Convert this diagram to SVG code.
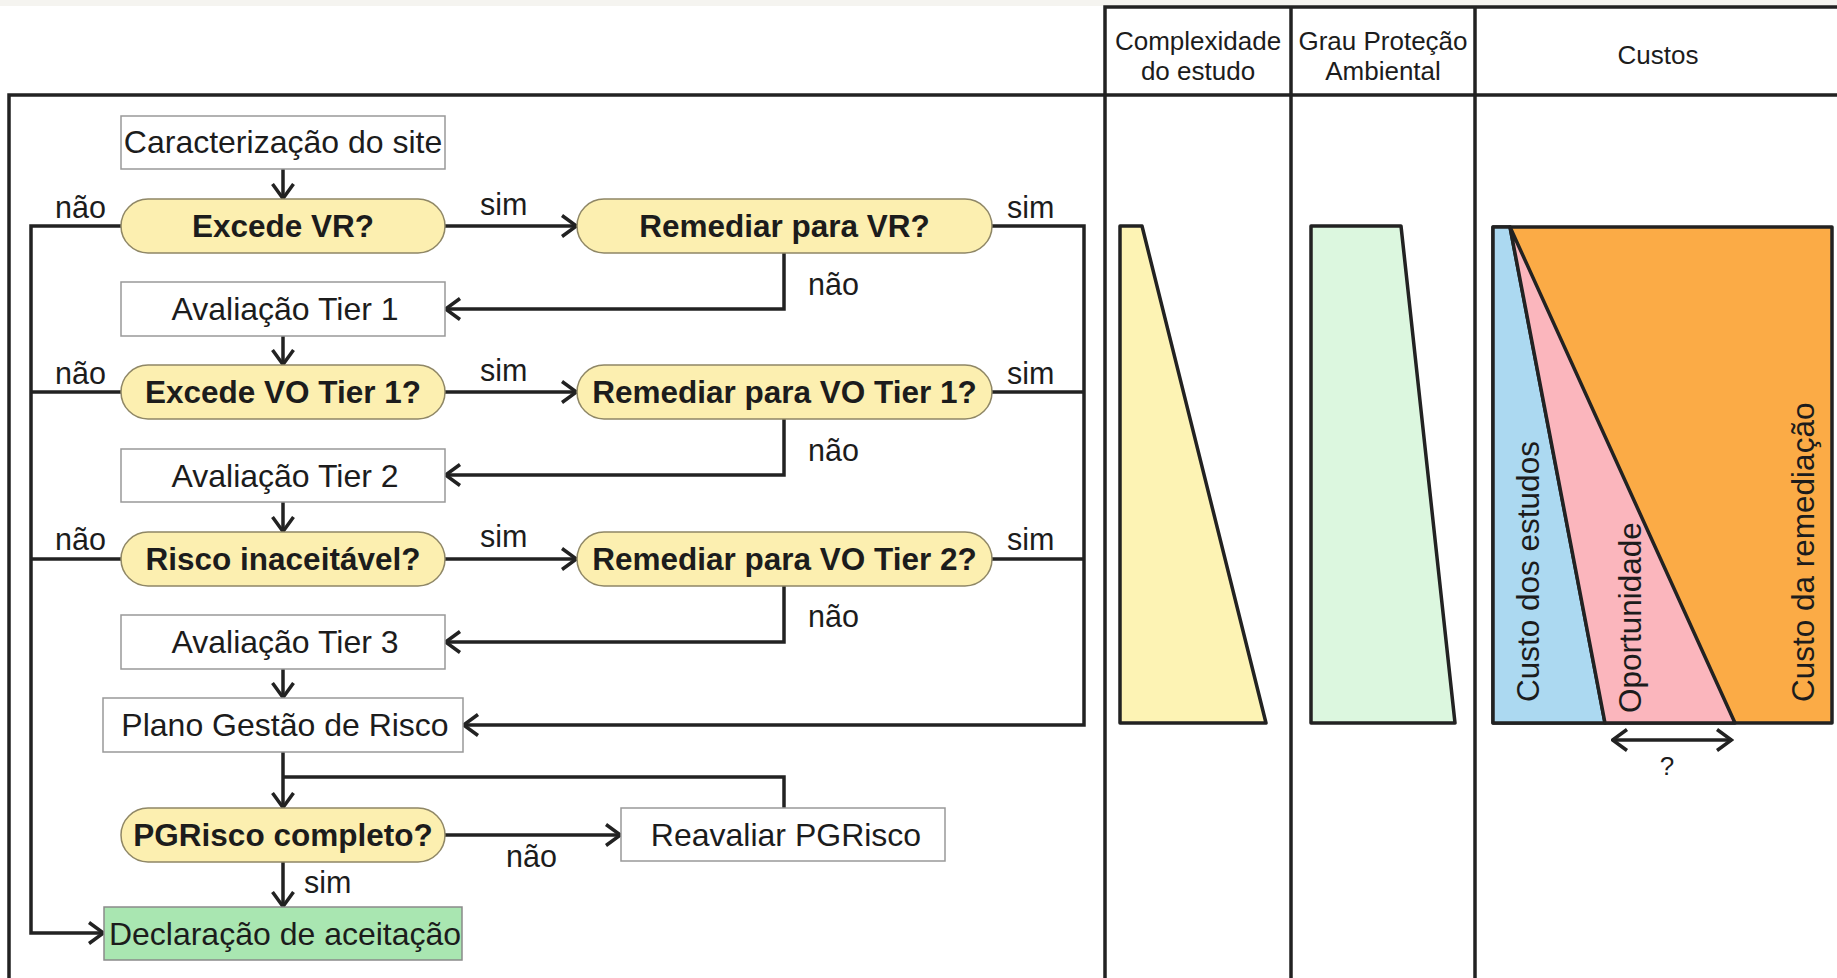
<svg xmlns="http://www.w3.org/2000/svg" width="1837" height="978" viewBox="0 0 1837 978">
<style>
  .frame{stroke:#222;stroke-width:3.5;fill:none}
  .box{fill:#fff;stroke:#999;stroke-width:1.5}
  .pill{fill:#fcefb0;stroke:#8f8766;stroke-width:1.5}
  .ok{fill:#a9e6b1;stroke:#8a8a8a;stroke-width:1.5}
  .t{font-family:"Liberation Sans",Arial,sans-serif;font-size:32px;fill:#1c1c1c;text-anchor:middle}
  .b{font-weight:bold;font-size:31.5px}
  .lbl{font-family:"Liberation Sans",Arial,sans-serif;font-size:30.5px;fill:#1c1c1c}
  .hd{font-family:"Liberation Sans",Arial,sans-serif;font-size:26px;fill:#1c1c1c;text-anchor:middle}
  .rot{font-family:"Liberation Sans",Arial,sans-serif;font-size:31.5px;fill:#1c1c1c}
  .c{stroke:#222;stroke-width:3.5;fill:none}
  .ca{stroke:#222;stroke-width:3.5;fill:none;marker-end:url(#ah)}
  .shape{stroke:#222;stroke-width:3.5;stroke-linejoin:round}
</style>
<defs>
  <marker id="ah" viewBox="0 0 18 24" refX="16.5" refY="12" markerWidth="18" markerHeight="24" markerUnits="userSpaceOnUse" orient="auto">
    <path d="M1.5,1.5 L16,12 L1.5,22.5" fill="none" stroke="#222" stroke-width="3.5" stroke-linejoin="miter"/>
  </marker>
  <marker id="ahs" viewBox="0 0 18 24" refX="1.5" refY="12" markerWidth="18" markerHeight="24" markerUnits="userSpaceOnUse" orient="auto">
    <path d="M16.5,1.5 L2,12 L16.5,22.5" fill="none" stroke="#222" stroke-width="3.5"/>
  </marker>
</defs>
<rect x="0" y="0" width="1837" height="978" fill="#ffffff"/>
<rect x="0" y="0" width="1837" height="6" fill="#f5f4f0"/>

<g id="frame">
  <path class="frame" d="M9,978 V95 H1837"/>
  <path class="frame" d="M1105,978 V7 H1837"/>
  <path class="frame" d="M1291,7 V978"/>
  <path class="frame" d="M1475,7 V978"/>
</g>

<g id="headers">
  <text class="hd" x="1198" y="50">Complexidade</text>
  <text class="hd" x="1198" y="80">do estudo</text>
  <text class="hd" x="1383" y="50">Grau Proteção</text>
  <text class="hd" x="1383" y="80">Ambiental</text>
  <text class="hd" x="1658" y="64">Custos</text>
</g>

<g id="connectors">
  <path class="ca" d="M283,169 V199"/>
  <path class="ca" d="M445,226 H577"/>
  <path class="ca" d="M784,253 V309 H445"/>
  <path class="ca" d="M283,336 V365"/>
  <path class="ca" d="M445,392 H577"/>
  <path class="ca" d="M784,419 V475 H445"/>
  <path class="ca" d="M283,502 V532"/>
  <path class="ca" d="M445,559 H577"/>
  <path class="ca" d="M784,586 V642 H445"/>
  <path class="ca" d="M283,669 V698"/>
  <path class="ca" d="M992,226 H1084 V725 H463"/>
  <path class="c" d="M992,392 H1084"/>
  <path class="c" d="M992,559 H1084"/>
  <path class="ca" d="M121,226 H31 V933 H104"/>
  <path class="c" d="M121,392 H31"/>
  <path class="c" d="M121,559 H31"/>
  <path class="ca" d="M283,752 V808"/>
  <path class="c" d="M784,808 V777 H283"/>
  <path class="ca" d="M445,835 H621"/>
  <path class="ca" d="M283,862 V907"/>
  <text class="lbl" x="55" y="218">não</text>
  <text class="lbl" x="55" y="384">não</text>
  <text class="lbl" x="55" y="550">não</text>
  <text class="lbl" x="480" y="215">sim</text>
  <text class="lbl" x="480" y="381">sim</text>
  <text class="lbl" x="480" y="547">sim</text>
  <text class="lbl" x="1007" y="218">sim</text>
  <text class="lbl" x="1007" y="384">sim</text>
  <text class="lbl" x="1007" y="550">sim</text>
  <text class="lbl" x="808" y="295">não</text>
  <text class="lbl" x="808" y="461">não</text>
  <text class="lbl" x="808" y="627">não</text>
  <text class="lbl" x="506" y="867">não</text>
  <text class="lbl" x="304" y="893">sim</text>
</g>

<g id="n-caract"><rect class="box" x="121" y="116" width="324" height="53"/><text class="t" x="283" y="153">Caracterização do site</text></g>
<g id="n-excede-vr"><rect class="pill" x="121" y="199" width="324" height="54" rx="27"/><text class="t b" x="283" y="237">Excede VR?</text></g>
<g id="n-remediar-vr"><rect class="pill" x="577" y="199" width="415" height="54" rx="27"/><text class="t b" x="784.5" y="237">Remediar para VR?</text></g>
<g id="n-tier1"><rect class="box" x="121" y="282" width="324" height="54"/><text class="t" x="285" y="320">Avaliação Tier 1</text></g>
<g id="n-excede-vo1"><rect class="pill" x="121" y="365" width="324" height="54" rx="27"/><text class="t b" x="283" y="403">Excede VO Tier 1?</text></g>
<g id="n-remediar-vo1"><rect class="pill" x="577" y="365" width="415" height="54" rx="27"/><text class="t b" x="784.5" y="403">Remediar para VO Tier 1?</text></g>
<g id="n-tier2"><rect class="box" x="121" y="449" width="324" height="53"/><text class="t" x="285" y="487">Avaliação Tier 2</text></g>
<g id="n-risco"><rect class="pill" x="121" y="532" width="324" height="54" rx="27"/><text class="t b" x="283" y="570">Risco inaceitável?</text></g>
<g id="n-remediar-vo2"><rect class="pill" x="577" y="532" width="415" height="54" rx="27"/><text class="t b" x="784.5" y="570">Remediar para VO Tier 2?</text></g>
<g id="n-tier3"><rect class="box" x="121" y="615" width="324" height="54"/><text class="t" x="285" y="653">Avaliação Tier 3</text></g>
<g id="n-plano"><rect class="box" x="103" y="698" width="360" height="54"/><text class="t" x="285" y="736">Plano Gestão de Risco</text></g>
<g id="n-pgrisco"><rect class="pill" x="121" y="808" width="324" height="54" rx="27"/><text class="t b" x="283" y="846">PGRisco completo?</text></g>
<g id="n-reavaliar"><rect class="box" x="621" y="808" width="324" height="53"/><text class="t" x="786" y="846">Reavaliar PGRisco</text></g>
<g id="n-declaracao"><rect class="ok" x="104" y="907" width="358" height="53"/><text class="t" x="285" y="945">Declaração de aceitação</text></g>

<g id="chart-complexidade">
  <polygon class="shape" points="1120,226 1142,226 1266,723 1120,723" fill="#fdf3b4"/>
</g>
<g id="chart-protecao">
  <polygon class="shape" points="1311,226 1401,226 1455,723 1311,723" fill="#dcf7df"/>
</g>
<g id="chart-custos">
  <rect class="shape" x="1493" y="227" width="339" height="496" fill="#fbab46"/>
  <polygon class="shape" points="1493,227 1510,227 1605,723 1493,723" fill="#acd9f1"/>
  <polygon class="shape" points="1510,227 1605,723 1735,723" fill="#fbb6bd"/>
  <text class="rot" transform="translate(1539,702) rotate(-90)">Custo dos estudos</text>
  <text class="rot" transform="translate(1641,713) rotate(-90)">Oportunidade</text>
  <text class="rot" transform="translate(1814,702) rotate(-90)">Custo da remediação</text>
  <path class="c" d="M1612,740 H1732" marker-start="url(#ahs)" marker-end="url(#ah)"/>
  <text class="hd" x="1667" y="775">?</text>
</g>
</svg>
